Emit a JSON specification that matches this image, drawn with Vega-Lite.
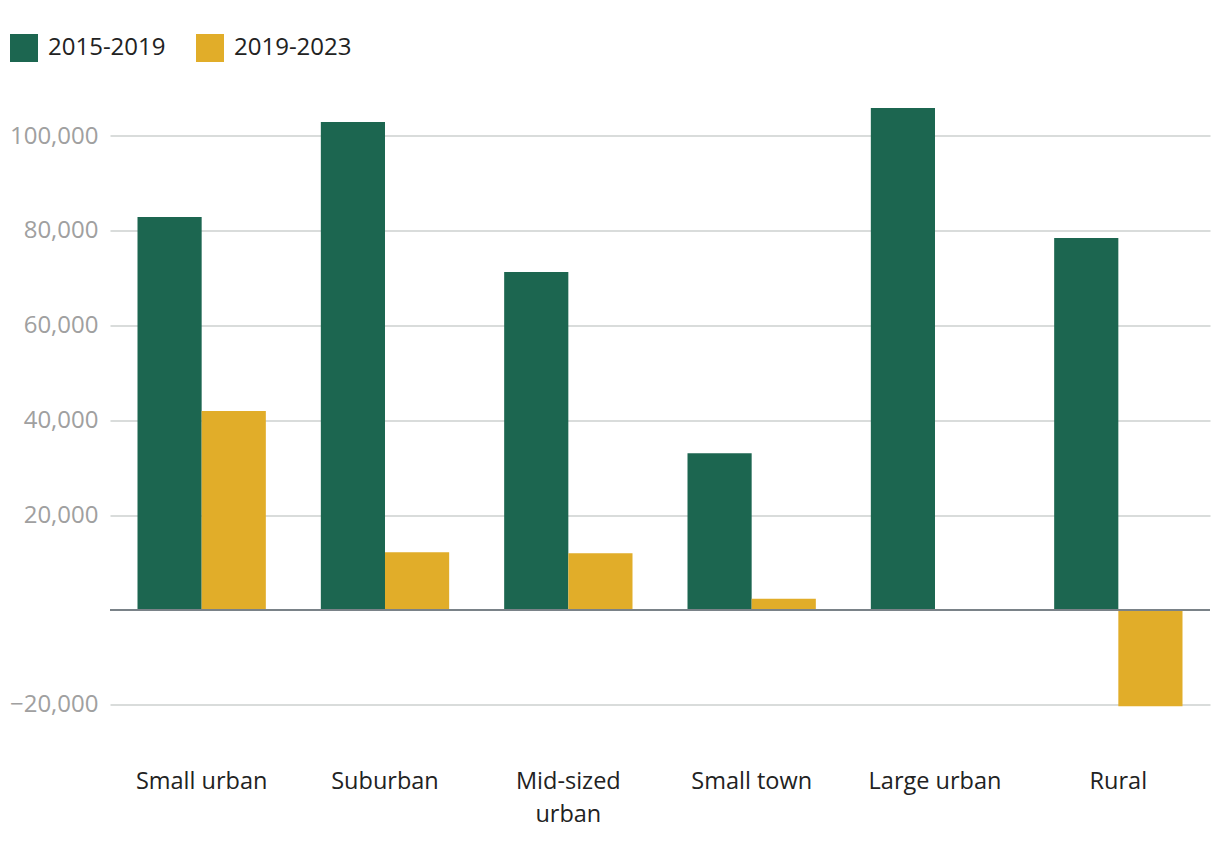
{
  "$schema": "https://vega.github.io/schema/vega-lite/v6.json",
  "autosize": {"type": "none"},
  "width": 1100,
  "height": 621,
  "padding": {"left": 110, "top": 88.6, "right": 10, "bottom": 140.4},
  "background": "white",
  "config": {
    "font": "Open Sans",
    "view": {"stroke": null}
  },
  "data": {
    "values": [
      {"area": "Small urban", "period": "2015-2019", "change": 82900},
      {"area": "Small urban", "period": "2019-2023", "change": 42000},
      {"area": "Suburban", "period": "2015-2019", "change": 102950},
      {"area": "Suburban", "period": "2019-2023", "change": 12200},
      {"area": "Mid-sized urban", "period": "2015-2019", "change": 71300},
      {"area": "Mid-sized urban", "period": "2019-2023", "change": 12000},
      {"area": "Small town", "period": "2015-2019", "change": 33100},
      {"area": "Small town", "period": "2019-2023", "change": 2400},
      {"area": "Large urban", "period": "2015-2019", "change": 105900},
      {"area": "Large urban", "period": "2019-2023", "change": 0},
      {"area": "Rural", "period": "2015-2019", "change": 78500},
      {"area": "Rural", "period": "2019-2023", "change": -20300}
    ]
  },
  "layer": [
    {
      "mark": {"type": "bar"},
      "encoding": {
        "x": {
          "field": "area",
          "type": "nominal",
          "sort": null,
          "scale": {"paddingInner": 0.3, "paddingOuter": 0.15},
          "axis": {
            "title": null,
            "domain": false,
            "ticks": false,
            "labelAngle": 0,
            "labelFontSize": 23.5,
            "labelColor": "#222222",
            "labelPadding": 60,
            "labelLineHeight": 33,
            "labelExpr": "datum.label == 'Mid-sized urban' ? ['Mid-sized', 'urban'] : datum.label"
          }
        },
        "xOffset": {"field": "period", "type": "nominal", "scale": {"paddingInner": 0, "paddingOuter": 0}},
        "y": {
          "field": "change",
          "type": "quantitative",
          "scale": {"domain": [-21000, 110000], "nice": false, "zero": false},
          "axis": {
            "title": null,
            "domain": false,
            "ticks": false,
            "values": [-20000, 20000, 40000, 60000, 80000, 100000],
            "format": ",.0f",
            "labelFontSize": 24,
            "labelColor": "#a0a0a0",
            "labelPadding": 12,
            "gridColor": "#cdd1cf",
            "gridWidth": 1.5
          }
        },
        "color": {
          "field": "period",
          "type": "nominal",
          "scale": {"domain": ["2015-2019", "2019-2023"], "range": ["#1c6650", "#e1ad29"]},
          "legend": {
            "title": null,
            "orient": "none",
            "direction": "horizontal",
            "legendX": -100,
            "legendY": -54.6,
            "symbolType": "square",
            "symbolSize": 784,
            "symbolStrokeWidth": 0,
            "symbolOpacity": 1,
            "labelFontSize": 24,
            "labelColor": "#222222",
            "labelOffset": 10,
            "columnPadding": 30
          }
        }
      }
    },
    {
      "mark": {"type": "rule", "color": "#7a8288", "strokeWidth": 2},
      "encoding": {"y": {"datum": 0}}
    }
  ]
}
